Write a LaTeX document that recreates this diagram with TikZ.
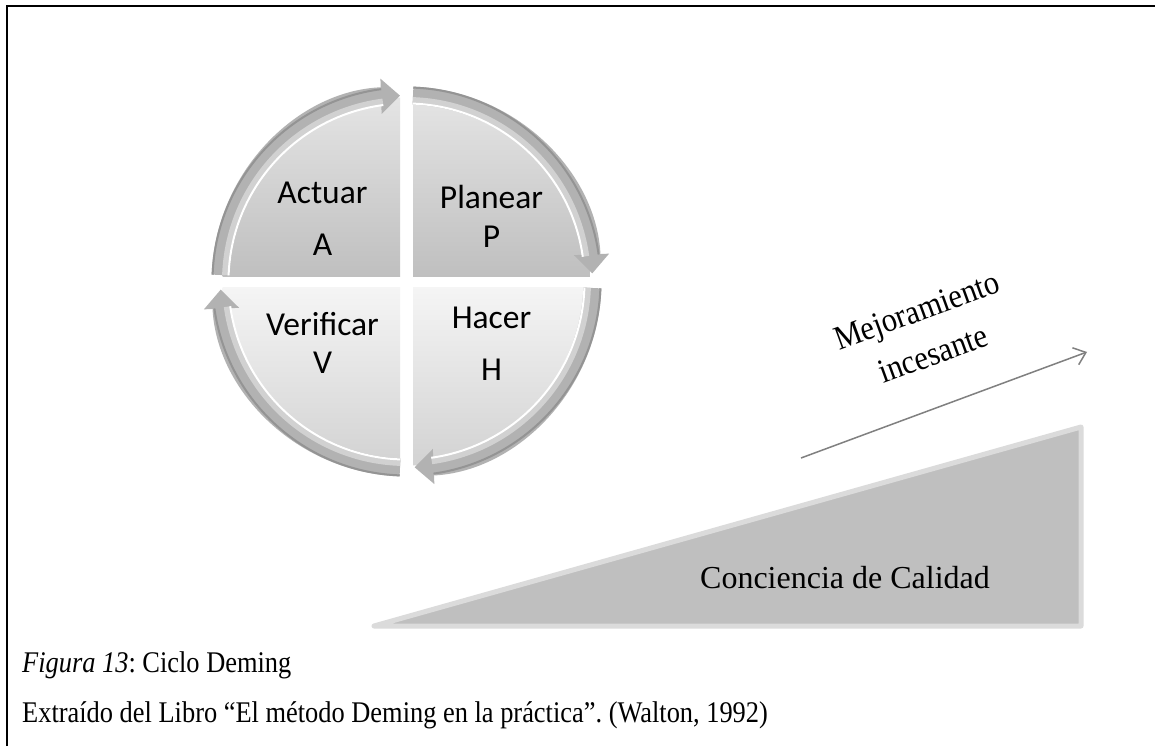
\documentclass[tikz,border=0pt]{standalone}
\usepackage{fontspec}
\setmainfont{Liberation Serif}
\newfontfamily\calib{Carlito}
\usetikzlibrary{arrows.meta}
\frenchspacing
\begin{document}
\begin{tikzpicture}[x=1pt,y=1pt,
  quadtext/.style={font=\calib\fontsize{33.5}{36}\selectfont, anchor=base, inner sep=0pt},
  band/.style={line width=18pt, draw=black!30, -{Triangle[length=19pt,width=34pt]}},
  bandlight/.style={line width=7pt, draw=black!18},
  bandshine/.style={line width=2pt, draw=white},
  bandedge/.style={line width=2pt, draw=black!42},
  serif/.style={inner sep=0pt, text=black},
  captext/.style={serif, anchor=base west, font=\fontsize{30}{34}\selectfont},
  mejtext/.style={serif, rotate=20, font=\fontsize{34}{40}\selectfont}
]
\useasboundingbox (0,0) rectangle (1155,-746);
\fill[white] (0,0) rectangle (1155,-746);
% frame
\draw[line width=2pt] (7,-746) -- (7,-6.5) -- (1155,-6.5);

\coordinate (C) at (406.5,-281.5);

% quadrants
\begin{scope}
  \clip (C) circle (184);
  \shade[top color=black!10, bottom color=black!25] ([shift={(-200,5.5)}]C) rectangle ([shift={(-6.5,190)}]C);
  \shade[top color=black!10, bottom color=black!25] ([shift={(6.5,5.5)}]C) rectangle ([shift={(200,190)}]C);
  \shade[top color=black!4, bottom color=black!18] ([shift={(-200,-190)}]C) rectangle ([shift={(-6.5,-5.5)}]C);
  \shade[top color=black!4, bottom color=black!18] ([shift={(6.5,-190)}]C) rectangle ([shift={(200,-5.5)}]C);
\end{scope}

% circular arrows
\foreach \s/\e in {178/92, 88/2.5, -2/-87.5, 268/182.5}{
  \draw[band] ([shift={(\s:186)}]C) arc[start angle=\s, end angle=\e, radius=186];
  \pgfmathsetmacro{\ee}{\e+5.5}
  \draw[bandedge] ([shift={(\s:194)}]C) arc[start angle=\s, end angle=\ee, radius=194];
  \draw[bandlight] ([shift={(\s:181)}]C) arc[start angle=\s, end angle=\ee, radius=181];
  \draw[bandshine] ([shift={(\s:178)}]C) arc[start angle=\s, end angle=\ee, radius=178];
}

% quadrant labels
\node[quadtext] (act) at (322.5,-203) {Actuar};
\node[quadtext] (actA) at (322.5,-255) {A};
\node[quadtext] (pla) at (491.5,-208) {Planear};
\node[quadtext] (plaP) at (491.5,-247) {P};
\node[quadtext] (ver) at (322.5,-335) {Verificar};
\node[quadtext] (verV) at (322.5,-373) {V};
\node[quadtext] (hac) at (491.5,-328) {Hacer};
\node[quadtext] (hacH) at (491.5,-380) {H};

% triangle
\filldraw[fill=black!25, draw=black!14, line width=5pt, line join=round]
  (374,-626) -- (1081,-427) -- (1081,-626) -- cycle;
\node[serif, anchor=base, font=\fontsize{32}{36}\selectfont] (cc) at (845,-588) {Conciencia de Calidad};

% improvement arrow
\coordinate (m1) at (801,-458);
\coordinate (m2) at (1087,-352);
\draw[black!50, line width=1.5pt, -{Straight Barb[length=11pt,width=18pt]}] (m1) -- (m2);
\node[mejtext] (mej1) at (918,-314) {\scalebox{0.9}[1]{Mejoramiento}};
\node[mejtext] (mej2) at (933,-354) {\scalebox{0.9}[1]{incesante}};

% caption
\node[captext] (cap1) at (22,-672) {\scalebox{0.88}[1]{\textit{Figura 13}: Ciclo Deming}};
\node[captext] (cap2) at (22,-722) {\scalebox{0.88}[1]{Extraído del Libro “El método Deming en la práctica”. (Walton, 1992)}};
\end{tikzpicture}
\end{document}
